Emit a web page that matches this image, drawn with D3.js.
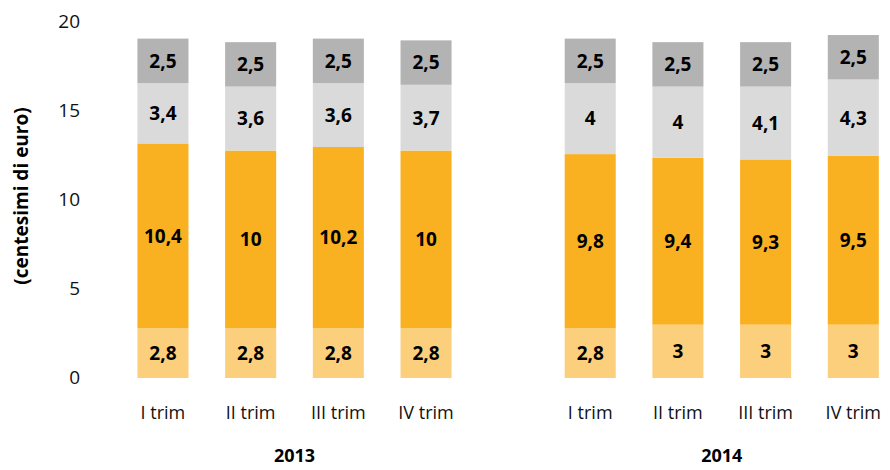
<!DOCTYPE html>
<html>
<head>
<meta charset="utf-8">
<script src="https://cdn.jsdelivr.net/npm/d3@7"></script>
<style>
  body { margin: 0; background: #fff; }
  svg text { font-family: "Open Sans", "Noto Sans", sans-serif; }
</style>
</head>
<body>
<svg id="chart" width="890" height="470"></svg>
<script>
// Cost components per quarter (centesimi di euro), bottom to top
const years = ["2013", "2014"];
const quarters = ["I trim", "II trim", "III trim", "IV trim"];
const seriesA = [2.8, 2.8, 2.8, 2.8, 2.8, 3, 3, 3];
const seriesB = [10.4, 10, 10.2, 10, 9.8, 9.4, 9.3, 9.5];
const seriesC = [3.4, 3.6, 3.6, 3.7, 4, 4, 4.1, 4.3];
const seriesD = [2.5, 2.5, 2.5, 2.5, 2.5, 2.5, 2.5, 2.5];
const yTicks = [0, 5, 10, 15, 20];
const colors = ["#FCCF7C", "#F9B122", "#DADADA", "#B3B3B3"];

const rows = [];
years.forEach((yr, i) => quarters.forEach((q, j) => {
  const k = i * quarters.length + j;
  rows.push({ year: yr, quarter: q, s0: seriesA[k], s1: seriesB[k], s2: seriesC[k], s3: seriesD[k] });
}));

const svg = d3.select("#chart");

const y = d3.scaleLinear().domain([0, 20]).range([378, 22.6]);
const x0 = d3.scaleBand().domain(years).range([119.1, 897.15]).paddingInner(0.179).paddingOuter(0);
const x1 = d3.scaleBand().domain(quarters).range([0, x0.bandwidth()]).paddingInner(0.418).paddingOuter(0.209);

const stack = d3.stack().keys(["s0", "s1", "s2", "s3"]);
const layers = stack(rows);

const fmt = v => String(v).replace(".", ",");

const layerG = svg.append("g").selectAll("g").data(layers).join("g")
  .attr("fill", (d, i) => colors[i]);

layerG.selectAll("rect").data(d => d).join("rect")
  .attr("x", d => x0(d.data.year) + x1(d.data.quarter))
  .attr("width", x1.bandwidth())
  .attr("y", d => y(d[1]))
  .attr("height", d => y(d[0]) - y(d[1]));

layerG.selectAll("text").data((d, i) => d.map(p => ({ p, key: layers[i].key }))).join("text")
  .attr("x", d => x0(d.p.data.year) + x1(d.p.data.quarter) + x1.bandwidth() / 2)
  .attr("y", d => (y(d.p[0]) + y(d.p[1])) / 2)
  .attr("dy", "0.36em")
  .attr("text-anchor", "middle")
  .attr("fill", "#000")
  .attr("font-size", 19)
  .attr("font-weight", 700)
  .text(d => fmt(d.p.data[d.key]));

// Y axis: tick labels only
const yAxis = svg.append("g").attr("transform", "translate(80,0)")
  .call(d3.axisLeft(y).tickValues(yTicks).tickSize(0).tickPadding(0));
yAxis.select(".domain").remove();
yAxis.selectAll("text").attr("font-size", 19).attr("fill", "#111").attr("font-weight", 400)
  .attr("dy", "0.28em")
  .style("font-family", "\"Open Sans\", sans-serif");

svg.append("text")
  .attr("transform", "translate(21,196) rotate(-90)")
  .attr("text-anchor", "middle")
  .attr("dy", "0.35em")
  .attr("font-size", 19)
  .attr("font-weight", 700)
  .attr("fill", "#000")
  .text("(centesimi di euro)");

// Quarter labels under each group
years.forEach(yr => {
  const g = svg.append("g").attr("transform", `translate(${x0(yr)},413)`)
    .call(d3.axisBottom(x1).tickSize(0).tickPadding(0));
  g.select(".domain").remove();
  g.selectAll("text").attr("font-size", 18).attr("fill", "#111").attr("font-weight", 400)
    .attr("dy", "0.35em").style("font-family", "\"Open Sans\", sans-serif");
});

// Year labels
svg.append("g").selectAll("text").data(years).join("text")
  .attr("x", d => x0(d) + x0.bandwidth() / 2)
  .attr("y", 456)
  .attr("dy", "0.35em")
  .attr("text-anchor", "middle")
  .attr("font-size", 18)
  .attr("font-weight", 700)
  .attr("fill", "#000")
  .text(d => d);
</script>
</body>
</html>
